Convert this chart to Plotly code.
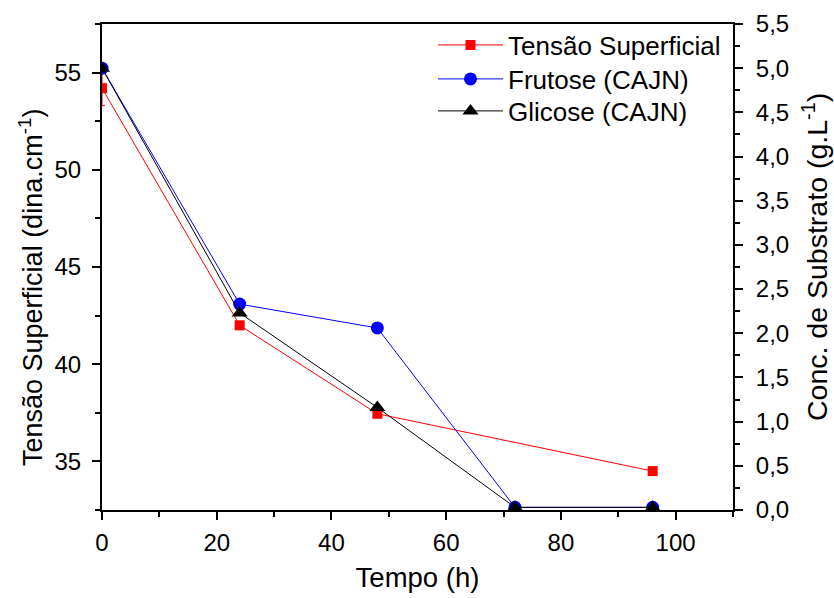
import plotly.graph_objects as go

# Sampling times (h)
tempo = [0, 24, 48, 72, 96]

# Surface tension (dina/cm) and its error on the first sample
tensao_x = [0, 24, 48, 96]
tensao_y = [54.2, 42.0, 37.45, 34.5]
tensao_err = [0.9, 0, 0, 0]

# Substrate concentration (g/L)
frutose = [5.0, 2.33, 2.06, 0.03, 0.03]
glicose = [5.0, 2.23, 1.16, 0.03, 0.03]

font_family = "Liberation Sans, Arial, sans-serif"

# plot area in pixels (used to place titles / legend rows)
PL, PR, PT, PB = 102, 733, 24, 510


def px_x(px):
    return (px - PL) / (PR - PL)


def px_y(py):
    return (PB - py) / (PB - PT)


fig = go.Figure()

fig.add_trace(go.Scatter(
    x=tensao_x, y=tensao_y, name="Tensão Superficial",
    mode="lines+markers",
    line=dict(color="#ff0000", width=1),
    marker=dict(symbol="square", size=10, color="#ff0000"),
    error_y=dict(type="data", array=tensao_err, visible=True,
                 color="#ff0000", thickness=1, width=3),
    yaxis="y", legend="legend",
))
fig.add_trace(go.Scatter(
    x=tempo, y=frutose, name="Frutose (CAJN)",
    mode="lines+markers",
    line=dict(color="#0000ff", width=1),
    marker=dict(symbol="circle", size=13, color="#0000ff"),
    yaxis="y2", legend="legend2",
))
fig.add_trace(go.Scatter(
    x=tempo, y=glicose, name="Glicose (CAJN)",
    mode="lines+markers",
    line=dict(color="#000000", width=1),
    marker=dict(symbol="triangle-up", size=14, color="#000000"),
    yaxis="y2", legend="legend3",
))

axis_common = dict(
    showgrid=False, zeroline=False, automargin=False,
    showline=True, linecolor="black", linewidth=2,
    ticks="outside", ticklen=8, tickwidth=2, tickcolor="black",
    tickfont=dict(family=font_family, size=24, color="black"),
)
minor_style = dict(ticks="outside", ticklen=5, tickwidth=2, tickcolor="black")


def legend_row(py):
    return dict(
        x=px_x(433), y=px_y(py), xanchor="left", yanchor="middle",
        bgcolor="rgba(0,0,0,0)", borderwidth=0,
        font=dict(family=font_family, size=26, color="black"),
        itemwidth=65,
    )


fig.update_layout(
    width=834, height=598,
    paper_bgcolor="white", plot_bgcolor="white",
    margin=dict(l=PL, r=834 - PR, t=PT, b=598 - PB),
    separators=",.",
    font=dict(family=font_family, color="black"),
    xaxis=dict(
        range=[0, 110], tickvals=[0, 20, 40, 60, 80, 100],
        minor=dict(tickvals=[10, 30, 50, 70, 90, 110], **minor_style),
        mirror=True, ticklabelstandoff=2,
        title=dict(text="Tempo (h)", font=dict(size=27.5), standoff=13),
        **axis_common,
    ),
    yaxis=dict(
        range=[32.5, 57.5], tickvals=[35, 40, 45, 50, 55],
        minor=dict(tickvals=[32.5, 37.5, 42.5, 47.5, 52.5, 57.5], **minor_style),
        ticklabelstandoff=6,
        **axis_common,
    ),
    yaxis2=dict(
        range=[0, 5.5], overlaying="y", side="right",
        tickvals=[i * 0.5 for i in range(12)], tickformat=".1f",
        minor=dict(tickvals=[0.25 + i * 0.5 for i in range(11)], **minor_style),
        ticklabelstandoff=8,
        **axis_common,
    ),
    legend=legend_row(45),
    legend2=legend_row(79),
    legend3=legend_row(111),
    annotations=[
        dict(text="Tensão Superficial (dina.cm<sup>-1</sup>)",
             xref="paper", yref="paper", x=px_x(31), y=px_y(288),
             xanchor="center", yanchor="middle", textangle=-90,
             showarrow=False, font=dict(family=font_family, size=27, color="black")),
        dict(text="Conc. de Substrato (g.L<sup>-1</sup>)",
             xref="paper", yref="paper", x=px_x(815), y=px_y(257),
             xanchor="center", yanchor="middle", textangle=-90,
             showarrow=False, font=dict(family=font_family, size=28.5, color="black")),
    ],
    showlegend=True,
)

fig.write_html("out.html")
